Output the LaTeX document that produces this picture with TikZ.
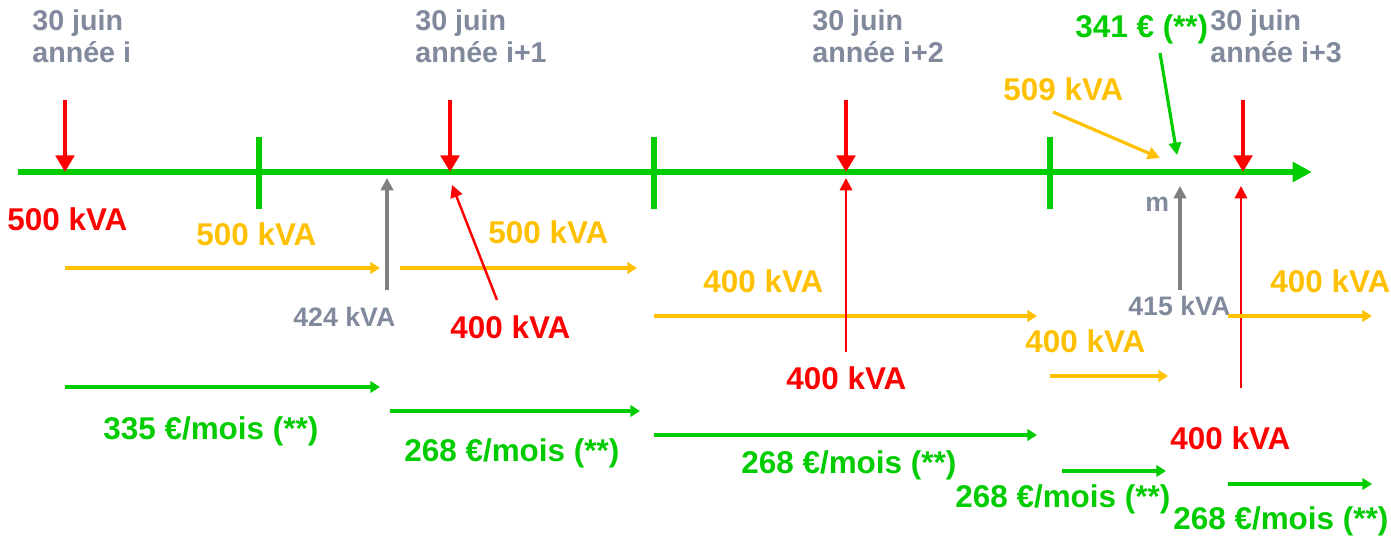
\documentclass[tikz,border=0pt]{standalone}
\usepackage{fontspec}
\setmainfont{Liberation Sans}
\usetikzlibrary{arrows.meta}

\definecolor{tlgreen}{RGB}{0,204,0}
\definecolor{kvayellow}{RGB}{255,192,0}
\definecolor{kvared}{RGB}{255,0,0}
\definecolor{datagray}{RGB}{128,138,156}
\definecolor{arrowgray}{RGB}{128,128,128}

\begin{document}
\begin{tikzpicture}[
    x=0.02cm, y=-0.02cm, % 1 unit = 1 pixel of the reference
    % Styles
    timeline/.style={ % Main time axis
        line width=3pt,
        tlgreen,
        -{Triangle[length=11pt, width=11pt]}
    },
    tickmark/.style={
        line width=3.2pt,
        tlgreen
    },
    deadline/.style={ % 30 juin markers
        line width=2.8pt,
        kvared,
        -{Triangle[length=9.5pt, width=10.5pt]}
    },
    period/.style={ % Horizontal kVA / tariff arrows
        line width=1.8pt,
        -{Triangle[length=5.5pt, width=6.5pt]}
    },
    pointer/.style={ % Thin arrows pointing to the axis
        line width=1.8pt,
        -{Triangle[length=7pt, width=7pt]}
    },
    txt/.style={
        anchor=base west,
        inner sep=0pt,
        font=\bfseries\fontsize{17.9}{20}\selectfont
    },
    small/.style={
        txt,
        datagray,
        font=\bfseries\fontsize{15.2}{17}\selectfont
    },
    datelabel/.style={
        anchor=north west,
        inner sep=0pt,
        align=left,
        datagray,
        font=\bfseries\fontsize{16.3}{18.2}\selectfont
    }
]
    \useasboundingbox (0,0) rectangle (1391,536);

    % Time axis and year boundaries
    \coordinate (start) at (18,172);
    \coordinate (end) at (1312,172);
    \draw[timeline] (start) -- (end);
    \foreach \x/\n in {259/a, 654/b, 1050/c} {
        \coordinate (top\n) at (\x,137);
        \coordinate (bot\n) at (\x,209);
        \draw[tickmark] (top\n) -- (bot\n);
    }

    % 30 juin of each year
    \foreach \x/\lx/\yr/\n in {65/32/i/0, 450/415/i+1/1, 846/812/i+2/2, 1243/1210/i+3/3} {
        \node[datelabel] (date\n) at (\lx,9) {30 juin\\année \yr};
        \coordinate (hi\n) at (\x,100);
        \coordinate (on\n) at (\x,172);
        \draw[deadline] (hi\n) -- (on\n);
    }

    % Year i
    \node[txt, kvared] (sub0) at (7,231) {500 kVA};
    \node[txt, kvayellow] (pow0) at (196,246) {500 kVA};
    \coordinate (p0s) at (65,268);
    \coordinate (p0e) at (380,268);
    \draw[period, kvayellow] (p0s) -- (p0e);
    \node[txt, tlgreen] (fee0) at (103,439) {335 €/mois (**)};
    \coordinate (f0s) at (65,387);
    \coordinate (f0e) at (380,387);
    \draw[period, tlgreen] (f0s) -- (f0e);
    \node[small] (max0) at (293,327) {424 kVA};
    \coordinate (m0s) at (387,290);
    \coordinate (m0e) at (387,178);
    \draw[pointer, arrowgray] (m0s) -- (m0e);

    % Year i+1
    \node[txt, kvayellow] (pow1) at (488,244) {500 kVA};
    \coordinate (p1s) at (400,268);
    \coordinate (p1e) at (637,268);
    \draw[period, kvayellow] (p1s) -- (p1e);
    \node[txt, kvared] (sub1) at (450,338) {400 kVA};
    \coordinate (s1s) at (497,300);
    \coordinate (s1e) at (452,185);
    \draw[pointer, kvared, line width=1.4pt] (s1s) -- (s1e);
    \node[txt, tlgreen] (fee1) at (404,461) {268 €/mois (**)};
    \coordinate (f1s) at (390,411);
    \coordinate (f1e) at (640,411);
    \draw[period, tlgreen] (f1s) -- (f1e);

    % Year i+2
    \node[txt, kvayellow] (pow2) at (703,293) {400 kVA};
    \coordinate (p2s) at (654,316);
    \coordinate (p2e) at (1037,316);
    \draw[period, kvayellow] (p2s) -- (p2e);
    \node[txt, kvared] (sub2) at (786,389) {400 kVA};
    \coordinate (s2s) at (846,352);
    \coordinate (s2e) at (846,178);
    \draw[pointer, kvared, line width=1.4pt] (s2s) -- (s2e);
    \node[txt, tlgreen] (fee2) at (741,473) {268 €/mois (**)};
    \coordinate (f2s) at (654,435);
    \coordinate (f2e) at (1037,435);
    \draw[period, tlgreen] (f2s) -- (f2e);

    % Year i+3 : overrun
    \node[txt, kvayellow] (over) at (1003,101) {509 kVA};
    \coordinate (os) at (1053,112);
    \coordinate (oe) at (1160,158);
    \draw[pointer, kvayellow] (os) -- (oe);
    \node[txt, tlgreen] (bill) at (1075,38) {341 € (**)};
    \coordinate (bs) at (1160,53);
    \coordinate (be) at (1177,155);
    \draw[pointer, tlgreen] (bs) -- (be);
    \node[small] (mark) at (1145,212) {m};
    \node[small] (max3) at (1128,316) {415 kVA};
    \coordinate (m3s) at (1180,290);
    \coordinate (m3e) at (1180,186);
    \draw[pointer, arrowgray] (m3s) -- (m3e);
    \node[txt, kvayellow] (pow3) at (1025,353) {400 kVA};
    \coordinate (p3s) at (1050,376);
    \coordinate (p3e) at (1168,376);
    \draw[period, kvayellow] (p3s) -- (p3e);
    \node[txt, tlgreen] (fee3) at (955,507) {268 €/mois (**)};
    \coordinate (f3s) at (1062,471);
    \coordinate (f3e) at (1166,471);
    \draw[period, tlgreen] (f3s) -- (f3e);

    % After 30 juin i+3
    \node[txt, kvared] (sub3) at (1170,449) {400 kVA};
    \coordinate (s3s) at (1241,388);
    \coordinate (s3e) at (1241,186);
    \draw[pointer, kvared, line width=1.4pt] (s3s) -- (s3e);
    \node[txt, kvayellow] (pow4) at (1270,293) {400 kVA};
    \coordinate (p4s) at (1228,316);
    \coordinate (p4e) at (1372,316);
    \draw[period, kvayellow] (p4s) -- (p4e);
    \node[txt, tlgreen] (fee4) at (1173,529) {268 €/mois (**)};
    \coordinate (f4s) at (1228,484);
    \coordinate (f4e) at (1372,484);
    \draw[period, tlgreen] (f4s) -- (f4e);
\end{tikzpicture}
\end{document}
